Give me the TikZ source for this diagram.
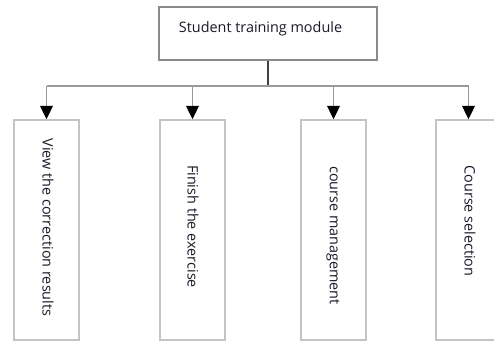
\documentclass[tikz,border=0pt]{standalone}
\usepackage{fontspec}
\setmainfont{Open Sans}
\usetikzlibrary{arrows.meta}
\definecolor{boxgray}{HTML}{C4C4C4}
\definecolor{topgray}{HTML}{8A8A8A}
\definecolor{linegray}{HTML}{9A9A9A}
\definecolor{txt}{HTML}{1A1A2A}
\begin{document}
\begin{tikzpicture}[x=0.75pt,y=-0.75pt,
  topbox/.style={draw=topgray,line width=0.9pt,fill=white,minimum width=218*0.75pt,minimum height=53*0.75pt,inner sep=0pt},
  subbox/.style={draw=boxgray,line width=1.1pt,fill=white,minimum width=65*0.75pt,minimum height=220*0.75pt,inner sep=0pt},
  vtext/.style={rotate=-90,text=txt,font=\fontsize{10.8pt}{13pt}\selectfont,inner sep=0pt},
  conn/.style={draw=linegray,line width=0.9pt},
  arr/.style={conn,-{Triangle[length=10pt,width=9.5pt,fill=black,color=black]}}]
\useasboundingbox (0,0) rectangle (494,342);
\clip (0,0) rectangle (494,342);
\node[topbox] (top) at (268,33.5) {};
\node[text=txt,font=\fontsize{10.8pt}{13pt}\selectfont,inner sep=0pt] (toplabel) at (260.5,29) {Student training module};
\node[subbox] (b1) at (46.5,230) {};
\node[subbox] (b2) at (192.5,230) {};
\node[subbox] (b3) at (333.5,230) {};
\node[subbox] (b4) at (468.5,230) {};
\node[vtext] (t1) at (48,227.5) {View the correction results};
\node[vtext] (t2) at (193,226.5) {Finish the exercise};
\node[vtext] (t3) at (333,235.5) {course management};
\node[vtext] (t4) at (470,221) {Course selection};
\coordinate (j) at (268,86);
\coordinate (c1) at (46.5,86);
\coordinate (c2) at (192.5,86);
\coordinate (c3) at (333.5,86);
\coordinate (c4) at (468.5,86);
\draw[conn,draw=black!75] (top.south) -- (j);
\draw[conn] (c1) -- (c4);
\draw[arr] (c1) -- (b1.north);
\draw[arr] (c2) -- (b2.north);
\draw[arr] (c3) -- (b3.north);
\draw[arr] (c4) -- (b4.north);
\end{tikzpicture}
\end{document}
